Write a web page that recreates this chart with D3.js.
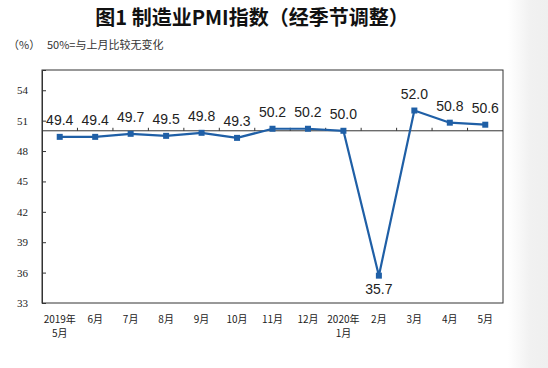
<!DOCTYPE html>
<html>
<head>
<meta charset="utf-8">
<script src="https://cdn.jsdelivr.net/npm/d3@7/dist/d3.min.js"></script>
<style>
  html, body { margin: 0; padding: 0; background: #fff; }
  svg { display: block; }
</style>
</head>
<body>
<svg id="chart" width="548" height="368"></svg>
<script>
const months = ["2019年\n5月", "6月", "7月", "8月", "9月", "10月", "11月", "12月", "2020年\n1月", "2月", "3月", "4月", "5月"];
const pmi = [49.4, 49.4, 49.7, 49.5, 49.8, 49.3, 50.2, 50.2, 50.0, 35.7, 52.0, 50.8, 50.6];
const yTicks = [33, 36, 39, 42, 45, 48, 51, 54];
const baseline = 50;

const svg = d3.select("#chart");
const W = 548, H = 368;
const m = { left: 42, right: 503, top: 70, bottom: 303 };

// right-edge grey fade
const defs = svg.append("defs");
const grad = defs.append("linearGradient").attr("id", "fade").attr("x1", "0").attr("x2", "1").attr("y1", "0").attr("y2", "0");
grad.append("stop").attr("offset", "0%").attr("stop-color", "#ffffff");
grad.append("stop").attr("offset", "55%").attr("stop-color", "#f1f1f1");
grad.append("stop").attr("offset", "100%").attr("stop-color", "#efefef");
svg.append("rect").attr("x", 508).attr("y", 0).attr("width", W - 508).attr("height", H).attr("fill", "url(#fade)");

const x = d3.scaleBand().domain(months).range([m.left, m.right]).paddingInner(0).paddingOuter(0);
const y = d3.scaleLinear().domain([33, 56]).range([m.bottom, m.top]);

// title
svg.append("text")
  .attr("x", 252).attr("y", 25)
  .attr("text-anchor", "middle")
  .attr("font-family", "'Noto Sans CJK SC', sans-serif")
  .attr("font-weight", "bold")
  .attr("font-size", 20)
  .attr("fill", "#111")
  .text("图1 制造业PMI指数（经季节调整）");

svg.append("text")
  .attr("x", 8).attr("y", 49)
  .attr("font-family", "'Noto Sans CJK SC', sans-serif")
  .attr("font-size", 11).attr("fill", "#333")
  .text("（%）");
svg.append("text")
  .attr("x", 47).attr("y", 49)
  .attr("font-family", "'Noto Sans CJK SC', sans-serif")
  .attr("font-size", 11).attr("fill", "#333")
  .text("50%=与上月比较无变化");

// frame
svg.append("rect")
  .attr("x", m.left).attr("y", m.top)
  .attr("width", m.right - m.left).attr("height", m.bottom - m.top)
  .attr("fill", "#fff").attr("stroke", "#333").attr("stroke-width", 1);

// y axis
const yAxis = d3.axisLeft(y).tickValues(yTicks).tickSize(-4).tickPadding(14);
const gy = svg.append("g").attr("transform", `translate(${m.left},0)`).call(yAxis);
gy.select(".domain").attr("stroke", "#333");
gy.selectAll(".tick line").attr("stroke", "#333");
gy.selectAll(".tick text")
  .attr("font-family", "'Liberation Serif', serif")
  .attr("font-size", 11).attr("fill", "#222");

// 50 reference line with category boundary ticks
const gb = svg.append("g");
gb.append("line")
  .attr("x1", m.left).attr("x2", m.right)
  .attr("y1", y(baseline)).attr("y2", y(baseline))
  .attr("stroke", "#333").attr("stroke-width", 1);
gb.selectAll("line.bt").data(months.slice(1)).join("line")
  .attr("class", "bt")
  .attr("x1", d => x(d)).attr("x2", d => x(d))
  .attr("y1", y(baseline)).attr("y2", y(baseline) - 3)
  .attr("stroke", "#333").attr("stroke-width", 1);

// x labels
const gx = svg.append("g");
months.forEach(mo => {
  const lines = mo.split("\n");
  const t = gx.append("text")
    .attr("x", x(mo) + x.bandwidth() / 2)
    .attr("y", 323)
    .attr("text-anchor", "middle")
    .attr("font-family", "'Noto Sans CJK SC', sans-serif")
    .attr("font-size", 10).attr("fill", "#222");
  lines.forEach((l, i) => {
    t.append("tspan").attr("x", x(mo) + x.bandwidth() / 2).attr("dy", i === 0 ? 0 : 14).text(l);
  });
});

// line
const cx = (d, i) => x(months[i]) + x.bandwidth() / 2;
const line = d3.line().x((d, i) => cx(d, i)).y(d => y(d));
svg.append("path")
  .datum(pmi)
  .attr("d", line)
  .attr("fill", "none")
  .attr("stroke", "#1f5fa6")
  .attr("stroke-width", 2.2)
  .attr("stroke-linejoin", "round");

svg.selectAll("rect.mk").data(pmi).join("rect")
  .attr("class", "mk")
  .attr("x", (d, i) => cx(d, i) - 3)
  .attr("y", d => y(d) - 3)
  .attr("width", 6).attr("height", 6)
  .attr("fill", "#1f5fa6");

// value labels
const minV = d3.min(pmi);
svg.selectAll("text.vl").data(pmi).join("text")
  .attr("class", "vl")
  .attr("x", (d, i) => cx(d, i))
  .attr("y", d => d === minV ? y(d) + 18 : y(d) - 12)
  .attr("text-anchor", "middle")
  .attr("font-family", "'Liberation Sans', Arial, sans-serif")
  .attr("font-size", 14).attr("fill", "#222")
  .text(d => d.toFixed(1));
</script>
</body>
</html>
